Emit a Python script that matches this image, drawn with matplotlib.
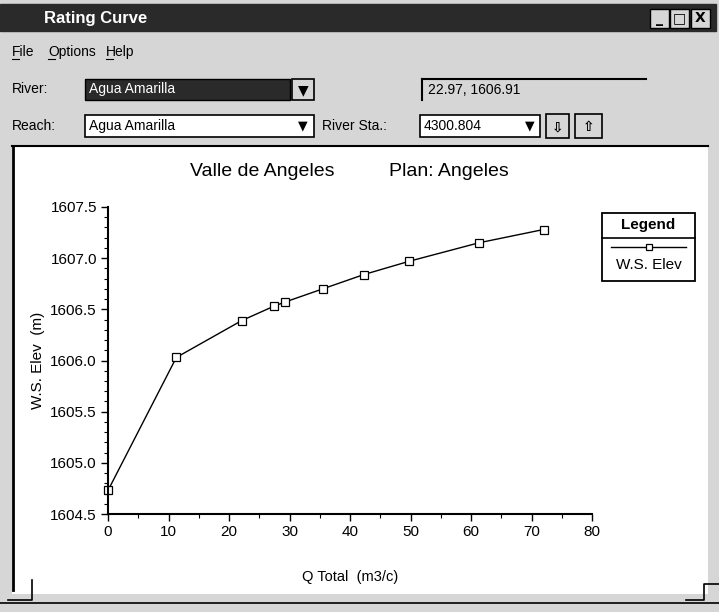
import matplotlib
matplotlib.use('Agg')
import matplotlib.pyplot as plt
from matplotlib.patches import Rectangle
from matplotlib.ticker import MultipleLocator

plt.rcParams['font.family'] = ['Liberation Sans', 'DejaVu Sans']

# rating curve values
q_total = [0.0, 11.3, 22.1, 27.4, 29.2, 35.5, 42.3, 49.8, 61.3, 72.0]
ws_elev = [1604.73, 1606.03, 1606.39, 1606.53, 1606.57, 1606.70,
           1606.84, 1606.97, 1607.15, 1607.28]

x_ticks = [0, 10, 20, 30, 40, 50, 60, 70, 80]
y_ticks = [1604.5, 1605.0, 1605.5, 1606.0, 1606.5, 1607.0, 1607.5]

series_name = 'W.S. Elev'
river = 'Agua Amarilla'
reach = 'Agua Amarilla'
river_sta = '4300.804'
cursor_pos = '22.97, 1606.91'

W, H = 719, 612
win_bg = '#d6d6d6'
dark = '#2a2a2a'

fig = plt.figure(figsize=(W / 100, H / 100), dpi=100)
fig.patch.set_facecolor(win_bg)

# window chrome drawn in pixel space
bg = fig.add_axes([0, 0, 1, 1])
bg.set_xlim(0, W)
bg.set_ylim(H, 0)
bg.axis('off')


def box(x0, y0, x1, y1, fc='white', ec='black', lw=1.0):
    bg.add_patch(Rectangle((x0, y0), x1 - x0, y1 - y0, fc=fc, ec=ec, lw=lw))


def arrow_btn(x0, y0, x1, y1, glyph):
    box(x0, y0, x1, y1, fc=win_bg, ec='black', lw=1.2)
    bg.text((x0 + x1) / 2, (y0 + y1) / 2 + 1, glyph, ha='center', va='center',
            fontsize=10, fontweight='bold', color='black',
            family=['DejaVu Sans'])


# title bar
box(0, 4, 716, 31, fc=dark, ec=dark)
bg.text(44, 18, 'Rating Curve', color='white', fontsize=12, fontweight='bold',
        va='center')
for x0, g in [(650, '_'), (670, '□'), (691, 'X')]:
    box(x0, 9, x0 + 19, 28, fc=win_bg, ec='black', lw=1)
    bg.text(x0 + 9.5, 18.5, g, ha='center', va='center', fontsize=10,
            fontweight='bold', family=['DejaVu Sans'])

# menu
for x, s in [(12, 'File'), (48, 'Options'), (106, 'Help')]:
    bg.text(x, 52, s, fontsize=10, va='center')
    bg.plot([x, x + 7], [59, 59], color='black', lw=0.8)

# river row
bg.text(12, 89, 'River:', fontsize=10, va='center')
box(85, 79, 290, 100, fc=dark, ec='black')
bg.text(89, 89, river, fontsize=10, va='center', color='white')
arrow_btn(292, 79, 314, 100, '▼')
bg.plot([422, 646], [79, 79], color='black', lw=1.5)
bg.plot([422, 422], [79, 100], color='black', lw=1.5)
bg.text(428, 90, cursor_pos, fontsize=10, va='center')

# reach row
bg.text(12, 126, 'Reach:', fontsize=10, va='center')
box(85, 115, 314, 137, fc='white', ec='black', lw=1.2)
bg.text(89, 126, reach, fontsize=10, va='center')
bg.text(303, 126, '▼', fontsize=9, ha='center', va='center',
        family=['DejaVu Sans'])
bg.text(322, 126, 'River Sta.:', fontsize=10, va='center')
box(420, 115, 540, 137, fc='white', ec='black', lw=1.2)
bg.text(424, 126, river_sta, fontsize=10, va='center')
bg.text(530, 126, '▼', fontsize=9, ha='center', va='center',
        family=['DejaVu Sans'])
arrow_btn(546, 114, 569, 138, '⇩')
arrow_btn(575, 114, 602, 138, '⇧')

# plot panel
box(12, 146, 708, 594, fc='white', ec='none')
bg.plot([13, 13], [146, 590], color='black', lw=2)
bg.plot([12, 708], [146, 146], color='black', lw=1.5)
bg.plot([0, W], [603, 603], color='black', lw=1.2)
bg.plot([8, 32, 32], [600, 600, 580], color='black', lw=1.2)
bg.plot([686, 704, 704, 719], [600, 600, 584, 584], color='black', lw=1.2)

# headings
bg.text(262, 172, 'Valle de Angeles', fontsize=14, ha='center', va='center')
bg.text(449, 172, 'Plan: Angeles', fontsize=14, ha='center', va='center')

# rating curve axes
ax = fig.add_axes([108 / W, 1 - 514 / H, (592 - 108) / W, (514 - 207) / H])
ax.patch.set_alpha(0)
line, = ax.plot(q_total, ws_elev, color='black', lw=1.0, marker='s', ms=5.5,
                mfc='white', mec='black', mew=0.9, label=series_name,
                clip_on=False)

ax.set_xlim(0, 80)
ax.set_ylim(1604.5, 1607.5)
ax.set_xticks(x_ticks)
ax.set_yticks(y_ticks)
ax.set_xticklabels([str(v) for v in x_ticks])
ax.set_yticklabels([f'{v:.1f}' for v in y_ticks])
ax.xaxis.set_minor_locator(MultipleLocator(5))
ax.yaxis.set_minor_locator(MultipleLocator(0.1))
ax.tick_params(which='major', direction='out', length=5, width=1,
               labelsize=11, pad=3)
ax.tick_params(which='minor', direction='out', length=3, width=0.8)
for side in ['top', 'right']:
    ax.spines[side].set_visible(False)
for side in ['left', 'bottom']:
    ax.spines[side].set_linewidth(1.5)
ax.set_xlabel('Q Total  (m3/c)', fontsize=10.5, labelpad=22)
ax.set_ylabel('W.S. Elev  (m)', fontsize=11, labelpad=4)

# legend box: header, divider, line sample, then the name
box(602, 213, 695, 281, fc='white', ec='black', lw=1.3)
bg.plot([602, 695], [238, 238], color='black', lw=1.2)
bg.text(648.5, 225.5, 'Legend', fontsize=11, fontweight='bold',
        ha='center', va='center')
bg.plot([611, 686], [247, 247], color=line.get_color(), lw=1)
bg.plot([649], [247], marker='s', ms=5, mfc='white', mec='black', mew=0.9)
bg.text(648.5, 265, line.get_label(), fontsize=11, ha='center', va='center')

fig.savefig('out.png', dpi=100, facecolor=fig.get_facecolor())
